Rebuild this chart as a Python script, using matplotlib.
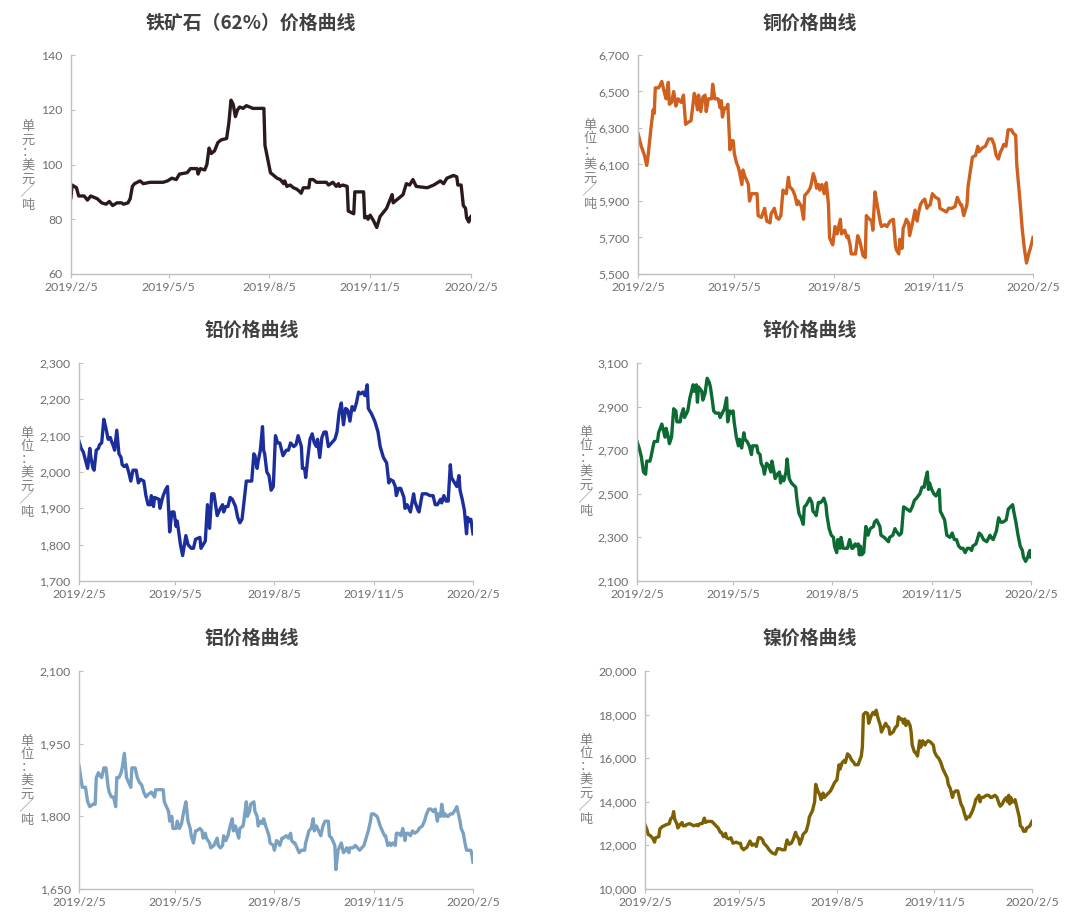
import matplotlib
matplotlib.use("Agg")
import matplotlib.pyplot as plt
import matplotlib.ticker as mticker
import pandas as pd

plt.rcParams['font.family'] = ['Lato', 'Noto Sans CJK SC', 'DejaVu Sans']

start = pd.Timestamp("2019-02-05")
tick_dates = ["2019-02-05", "2019-05-05", "2019-08-05", "2019-11-05", "2020-02-05"]
tick_labels = ["2019/2/5", "2019/5/5", "2019/8/5", "2019/11/5", "2020/2/5"]

# 铁矿石 (62%) — 天数(自2019/2/5起) 与 价格
iron_day = [0, 1, 5, 7, 12, 15, 18, 24, 28, 32, 35, 38, 42, 46, 48, 52, 54, 56, 58, 63, 66, 72, 84, 88,
            92, 96, 99, 106, 109, 115, 116, 118, 122, 124, 126, 128, 131, 134, 137, 142, 144, 146, 148,
            150, 152, 154, 157, 160, 166, 176, 177, 179, 182, 185, 188, 191, 194, 195, 197, 200, 203,
            206, 209, 210, 212, 217, 218, 221, 224, 233, 235, 239, 242, 244, 245, 248, 252, 253, 258,
            259, 267, 268, 270, 271, 273, 276, 279, 282, 285, 288, 291, 293, 294, 297, 300, 303, 306,
            309, 312, 315, 325, 331, 337, 340, 343, 349, 352, 353, 356, 358, 360, 361, 363, 364, 365]
iron_val = [88, 92.5, 91.5, 88.5, 88.5, 87, 88.5, 87.5, 86, 85.5, 86.5, 85, 86, 86, 85.5, 86, 87.5, 92,
            93, 94, 93, 93.5, 93.5, 94, 95, 94.5, 96.5, 97, 98.5, 98.5, 96.5, 98.5, 98, 100, 106, 104,
            105, 108, 109, 109.5, 115, 123.5, 122, 117.5, 120, 121, 120.5, 121.5, 120.5, 120.5, 107,
            103, 97, 96, 95, 94.5, 93, 94, 92, 92.5, 91.5, 91, 90, 89.5, 91.5, 91.5, 94.5, 94.5, 93.5,
            93.5, 92.5, 93.5, 92, 93, 92, 92.5, 92, 83, 82, 90, 90, 80.5, 81, 80, 81.5, 79.5, 77, 81,
            82.5, 84, 87, 89, 86, 87, 88, 89, 93, 92.5, 94.5, 92, 91.5, 92.5, 94, 93, 95, 96, 95.5,
            92.5, 92.5, 85, 84, 80.5, 79, 80.5, 81]

# 铜
copper_day = [0, 3, 6, 8, 9, 12, 14, 15, 16, 19, 20, 22, 25, 26, 28, 29, 31, 33, 35, 37, 40, 42, 44,
              46, 49, 52, 53, 55, 56, 58, 60, 62, 63, 65, 68, 69, 71, 74, 76, 77, 78, 80, 82, 83, 85,
              86, 88, 89, 91, 93, 94, 96, 97, 99, 100, 102, 103, 105, 110, 111, 114, 117, 119, 122,
              123, 126, 128, 130, 132, 134, 135, 137, 139, 140, 143, 145, 147, 148, 150, 151, 153,
              154, 157, 159, 160, 162, 164, 165, 167, 168, 170, 172, 174, 176, 177, 179, 180, 182,
              184, 187, 188, 191, 193, 194, 196, 197, 201, 203, 205, 208, 210, 211, 214, 216, 217,
              219, 221, 224, 225, 228, 230, 233, 236, 238, 239, 241, 242, 244, 245, 247, 248, 250,
              251, 254, 256, 258, 259, 261, 263, 265, 267, 268, 270, 272, 275, 278, 279, 282, 285,
              287, 290, 293, 295, 298, 299, 301, 304, 305, 308, 309, 312, 314, 315, 318, 321, 324,
              327, 329, 331, 333, 335, 336, 338, 340, 342, 345, 347, 349, 350, 353, 355, 357, 359,
              361, 363, 365]
copper_val = [6270, 6200, 6150, 6095, 6130, 6300, 6400, 6380, 6520, 6520, 6530, 6555, 6480, 6460,
              6550, 6430, 6440, 6500, 6420, 6460, 6440, 6480, 6320, 6330, 6340, 6490, 6470, 6400,
              6480, 6390, 6470, 6480, 6390, 6460, 6460, 6540, 6460, 6460, 6410, 6450, 6360, 6410,
              6410, 6430, 6180, 6230, 6230, 6160, 6110, 6080, 6050, 5990, 6070, 6030, 6020, 5990,
              5900, 5940, 5940, 5820, 5810, 5860, 5790, 5780, 5830, 5860, 5810, 5800, 5820, 5960,
              5950, 5940, 6030, 5980, 5960, 5930, 5880, 5900, 5880, 5870, 5800, 5930, 5950, 5970,
              5990, 6050, 6010, 5970, 5990, 5960, 5990, 5940, 6000, 5880, 5700, 5670, 5660, 5760,
              5720, 5800, 5720, 5740, 5700, 5710, 5660, 5610, 5610, 5710, 5680, 5600, 5590, 5820,
              5800, 5790, 5740, 5950, 5880, 5780, 5760, 5770, 5760, 5790, 5800, 5650, 5630, 5610,
              5690, 5640, 5750, 5780, 5800, 5780, 5710, 5790, 5850, 5790, 5830, 5880, 5900, 5910,
              5860, 5870, 5880, 5940, 5920, 5910, 5860, 5850, 5840, 5860, 5860, 5870, 5920, 5880,
              5880, 5820, 5880, 5980, 6100, 6140, 6150, 6200, 6170, 6190, 6200, 6240, 6240, 6210,
              6150, 6130, 6170, 6180, 6210, 6200, 6290, 6290, 6270, 6260, 6100, 5900, 5750, 5640,
              5560, 5610, 5650, 5700]

# 铅
lead_day = [0, 2, 4, 8, 10, 11, 13, 14, 16, 18, 19, 21, 23, 25, 27, 29, 30, 32, 33, 35, 37, 39, 40,
            42, 44, 46, 48, 50, 53, 55, 57, 60, 62, 64, 66, 67, 69, 70, 74, 75, 77, 78, 80, 82, 84,
            86, 88, 90, 91, 94, 96, 99, 101, 104, 106, 108, 112, 113, 115, 117, 119, 121, 123, 125,
            128, 131, 133, 134, 136, 138, 140, 142, 145, 147, 149, 151, 152, 155, 158, 160, 162,
            163, 165, 166, 168, 170, 171, 172, 174, 176, 178, 180, 182, 184, 186, 189, 192, 194,
            196, 199, 201, 203, 206, 207, 209, 210, 212, 214, 216, 218, 220, 221, 223, 225, 227,
            229, 231, 234, 237, 239, 241, 243, 245, 247, 249, 251, 253, 255, 257, 259, 261, 263,
            265, 267, 268, 271, 274, 277, 279, 282, 284, 285, 287, 288, 291, 293, 294, 296, 298,
            301, 302, 304, 307, 310, 311, 314, 315, 318, 322, 325, 328, 330, 332, 335, 336, 338,
            340, 342, 344, 345, 348, 350, 352, 353, 355, 357, 359, 360, 362, 363, 365]
lead_val = [2085, 2065, 2055, 2010, 2065, 2040, 2010, 2005, 2060, 2065, 2075, 2080, 2145, 2120, 2090,
            2095, 2085, 2070, 2060, 2115, 2050, 2040, 2020, 2015, 2020, 2000, 1975, 2005, 2005, 1970,
            1980, 1975, 1935, 1910, 1910, 1935, 1905, 1930, 1925, 1900, 1925, 1935, 1950, 1960, 1835,
            1890, 1890, 1850, 1865, 1800, 1770, 1825, 1800, 1790, 1790, 1815, 1820, 1790, 1800, 1810,
            1910, 1845, 1940, 1940, 1880, 1900, 1910, 1890, 1905, 1905, 1930, 1925, 1905, 1875, 1860,
            1870, 1895, 1975, 1975, 1975, 2050, 2045, 2010, 2030, 2060, 2125, 2060, 2050, 2000, 1990,
            1950, 1960, 2100, 2080, 2080, 2045, 2060, 2060, 2080, 2070, 2075, 2100, 2070, 2010, 2010,
            1985, 2040, 2090, 2105, 2080, 2070, 2090, 2040, 2095, 2110, 2110, 2070, 2080, 2090, 2110,
            2165, 2190, 2130, 2175, 2170, 2140, 2180, 2170, 2190, 2220, 2215, 2220, 2210, 2240, 2175,
            2160, 2140, 2110, 2070, 2040, 2030, 2025, 1970, 1980, 1975, 1960, 1935, 1955, 1955, 1930,
            1900, 1910, 1890, 1940, 1920, 1895, 1890, 1940, 1940, 1935, 1935, 1910, 1910, 1925, 1915,
            1935, 1920, 1920, 2020, 1985, 1970, 1960, 1990, 1950, 1925, 1895, 1830, 1875, 1865, 1870,
            1830]

# 锌
zinc_day = [0, 2, 4, 6, 8, 9, 12, 13, 15, 16, 19, 20, 23, 24, 26, 27, 29, 30, 32, 34, 36, 37, 40, 41,
            43, 44, 46, 47, 49, 50, 52, 53, 55, 56, 57, 60, 61, 63, 65, 67, 68, 70, 71, 73, 76, 77,
            79, 81, 83, 84, 86, 87, 89, 90, 92, 94, 95, 97, 99, 100, 102, 104, 106, 107, 111, 112,
            114, 115, 117, 118, 120, 122, 124, 125, 127, 128, 130, 132, 133, 134, 136, 138, 139,
            141, 143, 145, 147, 148, 150, 152, 154, 155, 157, 158, 160, 162, 163, 165, 166, 168,
            170, 172, 173, 175, 176, 178, 180, 182, 183, 185, 186, 188, 189, 191, 192, 195, 197,
            199, 200, 202, 203, 205, 206, 207, 208, 210, 212, 214, 216, 219, 220, 222, 225, 226,
            229, 231, 233, 234, 237, 239, 240, 243, 245, 247, 250, 253, 255, 257, 259, 262, 264,
            266, 267, 269, 270, 271, 273, 275, 277, 280, 281, 283, 285, 287, 290, 292, 294, 296,
            298, 300, 302, 304, 306, 308, 310, 311, 314, 317, 319, 321, 324, 327, 328, 330, 333,
            335, 337, 339, 342, 344, 346, 348, 349, 351, 353, 355, 357, 358, 360, 362, 363, 364, 365]
zinc_val = [2740, 2710, 2670, 2600, 2590, 2650, 2650, 2670, 2720, 2740, 2740, 2780, 2820, 2800, 2760,
            2800, 2760, 2730, 2760, 2890, 2880, 2830, 2830, 2860, 2890, 2850, 2870, 2880, 2940, 2960,
            3000, 2970, 3000, 2920, 2990, 2970, 2930, 2960, 3030, 3010, 2990, 2920, 2880, 2870, 2870,
            2850, 2870, 2890, 2940, 2830, 2880, 2870, 2880, 2830, 2760, 2720, 2750, 2710, 2780, 2750,
            2740, 2720, 2680, 2720, 2720, 2690, 2680, 2640, 2620, 2590, 2640, 2630, 2600, 2650, 2600,
            2570, 2590, 2600, 2550, 2580, 2560, 2600, 2660, 2570, 2550, 2540, 2530, 2480, 2410, 2390,
            2360, 2440, 2450, 2460, 2480, 2460, 2420, 2410, 2400, 2460, 2460, 2470, 2480, 2450, 2400,
            2340, 2310, 2300, 2260, 2230, 2290, 2250, 2300, 2250, 2250, 2250, 2290, 2250, 2250, 2270,
            2260, 2270, 2220, 2260, 2220, 2230, 2350, 2310, 2340, 2350, 2370, 2380, 2350, 2310, 2300,
            2290, 2280, 2300, 2310, 2340, 2330, 2310, 2320, 2440, 2430, 2420, 2440, 2470, 2480, 2500,
            2530, 2530, 2560, 2600, 2520, 2550, 2520, 2500, 2490, 2520, 2420, 2400, 2380, 2310, 2300,
            2320, 2290, 2290, 2260, 2250, 2250, 2230, 2250, 2250, 2240, 2260, 2270, 2320, 2310, 2290,
            2280, 2310, 2300, 2290, 2330, 2390, 2370, 2370, 2380, 2430, 2440, 2450, 2420, 2370, 2310,
            2260, 2240, 2210, 2190, 2210, 2230, 2240, 2210]

# 铝
alu_day = [0, 2, 3, 6, 8, 10, 13, 15, 16, 18, 19, 21, 23, 25, 27, 28, 30, 32, 34, 35, 37, 39, 40, 42,
           44, 46, 48, 49, 52, 54, 56, 58, 60, 62, 64, 67, 70, 71, 75, 78, 79, 81, 83, 84, 86, 87, 90,
           91, 93, 95, 97, 99, 100, 101, 103, 104, 106, 108, 109, 112, 114, 115, 117, 118, 121, 122,
           125, 126, 128, 129, 131, 133, 134, 136, 138, 140, 142, 143, 145, 146, 148, 149, 152, 153,
           155, 156, 158, 159, 162, 163, 165, 166, 168, 170, 171, 173, 176, 177, 180, 181, 183, 185,
           186, 188, 189, 192, 194, 196, 197, 199, 200, 202, 204, 206, 209, 210, 213, 215, 217, 218,
           220, 222, 224, 226, 228, 231, 232, 234, 237, 238, 240, 242, 243, 245, 247, 248, 250, 251,
           254, 256, 258, 260, 262, 264, 266, 268, 270, 271, 273, 276, 277, 279, 281, 283, 284, 286,
           288, 289, 291, 293, 294, 296, 298, 300, 302, 303, 305, 307, 309, 311, 314, 315, 318, 320,
           322, 324, 326, 328, 330, 332, 333, 335, 336, 338, 339, 341, 342, 344, 346, 349, 350, 353,
           354, 356, 358, 359, 362, 363, 364, 365]
alu_val = [1905, 1875, 1860, 1860, 1830, 1820, 1825, 1825, 1880, 1890, 1885, 1880, 1900, 1900, 1860,
           1850, 1840, 1840, 1820, 1880, 1880, 1890, 1900, 1930, 1880, 1870, 1860, 1900, 1900, 1880,
           1870, 1865, 1850, 1840, 1845, 1850, 1840, 1855, 1855, 1855, 1830, 1820, 1810, 1790, 1800,
           1775, 1775, 1790, 1775, 1785, 1810, 1830, 1810, 1790, 1775, 1760, 1745, 1770, 1770, 1775,
           1770, 1755, 1765, 1755, 1745, 1735, 1740, 1745, 1755, 1740, 1735, 1740, 1760, 1750, 1760,
           1780, 1795, 1770, 1780, 1770, 1755, 1775, 1780, 1795, 1830, 1800, 1810, 1825, 1830, 1810,
           1800, 1780, 1790, 1785, 1795, 1780, 1760, 1745, 1740, 1730, 1750, 1745, 1740, 1755, 1755,
           1760, 1755, 1765, 1750, 1745, 1745, 1735, 1725, 1730, 1730, 1745, 1770, 1775, 1795, 1770,
           1780, 1770, 1760, 1780, 1790, 1790, 1760, 1755, 1740, 1690, 1730, 1740, 1745, 1725, 1730,
           1735, 1725, 1735, 1735, 1740, 1735, 1730, 1735, 1740, 1755, 1770, 1790, 1805, 1805, 1800,
           1795, 1780, 1770, 1760, 1760, 1740, 1745, 1740, 1745, 1740, 1765, 1765, 1760, 1775, 1750,
           1765, 1765, 1760, 1770, 1765, 1770, 1775, 1780, 1790, 1805, 1815, 1815, 1810, 1815, 1790,
           1805, 1800, 1825, 1800, 1805, 1800, 1800, 1805, 1805, 1815, 1820, 1790, 1775, 1765, 1740,
           1730, 1730, 1730, 1720, 1705]

# 镍
nickel_day = [0, 2, 3, 5, 7, 9, 10, 13, 14, 16, 18, 20, 23, 24, 26, 27, 28, 30, 31, 33, 35, 36, 38,
              39, 42, 44, 46, 49, 50, 52, 54, 56, 57, 59, 61, 63, 65, 67, 69, 71, 72, 74, 76, 77, 79,
              81, 83, 86, 88, 90, 91, 93, 94, 96, 98, 99, 101, 102, 104, 105, 107, 109, 111, 112, 115,
              117, 120, 123, 125, 127, 129, 132, 133, 134, 136, 138, 140, 142, 143, 145, 146, 148,
              149, 152, 154, 155, 157, 158, 160, 161, 163, 165, 166, 168, 169, 171, 173, 175, 176,
              178, 179, 181, 183, 184, 186, 188, 189, 191, 193, 195, 197, 198, 201, 204, 205, 206,
              208, 210, 211, 213, 215, 217, 218, 220, 222, 223, 225, 227, 228, 230, 231, 234, 236,
              238, 239, 241, 242, 244, 245, 246, 248, 250, 251, 252, 254, 256, 257, 259, 260, 262,
              264, 265, 267, 269, 272, 273, 275, 277, 279, 281, 283, 285, 286, 288, 290, 291, 293,
              295, 296, 298, 300, 301, 303, 304, 306, 307, 309, 311, 312, 315, 316, 317, 319, 322,
              324, 326, 327, 330, 332, 334, 335, 337, 339, 341, 342, 343, 344, 345, 346, 348, 349,
              351, 353, 354, 356, 357, 359, 360, 362, 363, 365]
nickel_val = [12950, 12700, 12500, 12450, 12350, 12150, 12350, 12400, 12750, 12850, 12900, 12950,
              13000, 13200, 13300, 13550, 13200, 13000, 12800, 12950, 13050, 12900, 12900, 12950,
              13000, 12950, 12900, 12950, 12900, 13000, 13000, 13250, 13050, 13100, 13100, 13100,
              13000, 12900, 12800, 12600, 12600, 12400, 12550, 12350, 12300, 12350, 12100, 12150,
              12100, 12100, 11900, 11800, 11850, 11900, 12100, 12200, 12000, 12050, 12050, 11950,
              12350, 12350, 12250, 12100, 11950, 11800, 11650, 11600, 11850, 11850, 11800, 11800,
              12050, 12250, 12050, 12100, 12300, 12600, 12450, 12300, 12050, 12300, 12500, 12650,
              13000, 13300, 13500, 13600, 14000, 14800, 14500, 14300, 14100, 14400, 14200, 14300,
              14400, 14500, 14600, 14800, 14900, 15000, 15700, 15500, 15800, 15900, 15800, 16200,
              16100, 15900, 15800, 15700, 15700, 16100, 16500, 18000, 18100, 18050, 17600, 17900,
              18100, 18000, 18200, 17800, 17500, 17200, 17400, 17600, 17500, 17400, 17100, 17200,
              17400, 17500, 17900, 17800, 17800, 17600, 17800, 17500, 17700, 17500, 17200, 16600,
              16300, 16200, 16100, 16800, 16500, 16800, 16600, 16700, 16800, 16750, 16600, 16300,
              16100, 16000, 15800, 15500, 15300, 15100, 14800, 14600, 14200, 14400, 14500, 14500,
              14300, 13900, 13700, 13500, 13200, 13300, 13300, 13400, 13600, 13900, 14100, 14300,
              14000, 14200, 14200, 14300, 14300, 14200, 14200, 14300, 14200, 13900, 13800, 13900,
              14100, 14200, 14000, 14300, 13900, 14200, 14000, 14000, 14100, 13700, 13300, 12900,
              12800, 12650, 12650, 12800, 12850, 12900, 13100]

panels = [
    ("铁矿石（62%）价格曲线", iron_day, iron_val, "#2b1a1c", (60, 140, 20), "单元：美元╱吨", False),
    ("铜价格曲线", copper_day, copper_val, "#d0601d", (5500, 6700, 200), "单位：美元╱吨", True),
    ("铅价格曲线", lead_day, lead_val, "#1c2e9c", (1700, 2300, 100), "单位：美元╱吨", True),
    ("锌价格曲线", zinc_day, zinc_val, "#0c6a33", (2100, 3100, 200), "单位：美元╱吨", True),
    ("铝价格曲线", alu_day, alu_val, "#7ba1c2", (1650, 2100, 150), "单位：美元╱吨", True),
    ("镍价格曲线", nickel_day, nickel_val, "#7d6003", (10000, 20000, 2000), "单位：美元╱吨", True),
]

# 像素位置: left, right, top, bottom ; 标题中心 x, y ; 纵轴文字 x, y
boxes = [
    (71, 471, 55, 274, 251, 23, 28, 166),
    (638, 1033, 55, 274, 810, 23, 590, 165),
    (79, 473, 363, 581, 252, 330, 27, 473),
    (637, 1031, 363, 581, 810, 330, 586, 472),
    (79, 473, 671, 889, 252, 638, 27, 781),
    (645, 1032, 671, 889, 810, 638, 586, 780),
]

W, H = 1080, 923
fig = plt.figure(figsize=(W / 100, H / 100), dpi=100)
fig.patch.set_facecolor("white")

grey = "#6e6e6e"
for (title, day, val, color, (lo, hi, step), ylab, comma), (l, r, t, b, tx, ty, lx, ly) in zip(panels, boxes):
    ax = fig.add_axes([l / W, 1 - b / H, (r - l) / W, (b - t) / H])
    dates = start + pd.to_timedelta(day, unit="D")
    ax.plot(dates, val, color=color, lw=2.4, solid_joinstyle="round")
    ax.set_xlim(pd.Timestamp(tick_dates[0]), pd.Timestamp(tick_dates[-1]))
    ax.set_ylim(lo, hi)
    ax.set_yticks(range(lo, hi + 1, step))
    if comma:
        ax.yaxis.set_major_formatter(mticker.StrMethodFormatter("{x:,.0f}"))
    ax.set_xticks(pd.to_datetime(tick_dates))
    ax.set_xticklabels(tick_labels)
    for s in ("top", "right"):
        ax.spines[s].set_visible(False)
    for s in ("left", "bottom"):
        ax.spines[s].set_color("#bfbfbf")
        ax.spines[s].set_linewidth(1.0)
    ax.tick_params(axis="y", direction="in", length=3, color="#bfbfbf", labelsize=8.8,
                   labelcolor=grey, pad=6)
    ax.tick_params(axis="x", direction="out", length=3, color="#bfbfbf", labelsize=8.8,
                   labelcolor=grey, pad=3)
    fig.text(tx / W, 1 - ty / H, title, ha="center", va="center", fontsize=13.6,
             fontweight="bold", color="#404040", family=["Noto Sans CJK SC", "DejaVu Sans"])
    fig.text(lx / W, 1 - ly / H, "\n".join(ylab), ha="center", va="center", fontsize=9.5,
             color="#808080", linespacing=1.0, family=["Noto Sans CJK SC", "DejaVu Sans"])

fig.savefig("out.png", dpi=100, facecolor="white")
